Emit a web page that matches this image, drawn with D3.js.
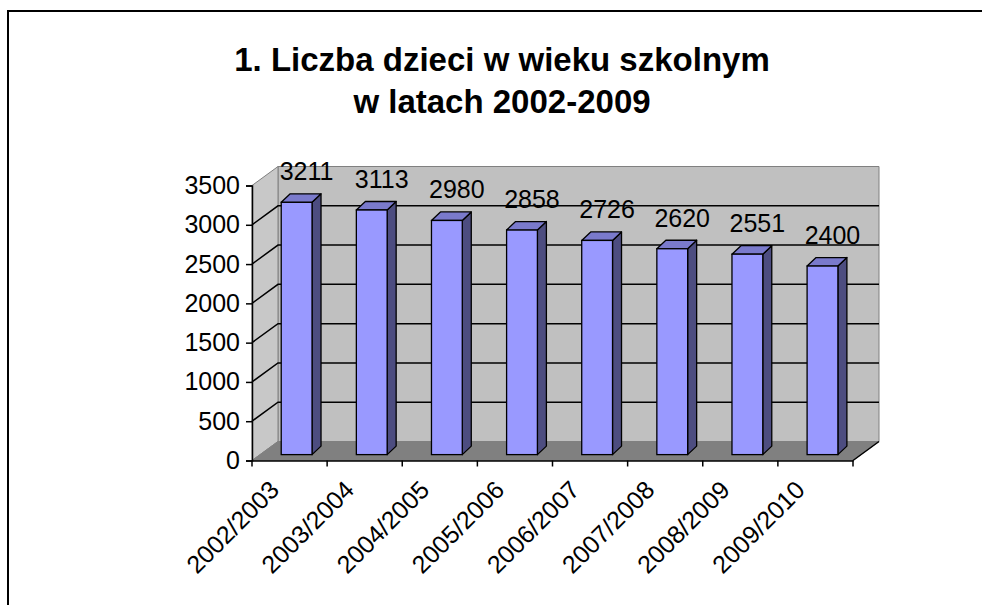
<!DOCTYPE html>
<html><head><meta charset="utf-8">
<script src="https://cdn.jsdelivr.net/npm/d3@7"></script>
<style>html,body{margin:0;padding:0;background:#fff;}svg{display:block;}</style>
</head><body>
<script>
const categories = ["2002/2003","2003/2004","2004/2005","2005/2006","2006/2007","2007/2008","2008/2009","2009/2010"];
const values = [3211,3113,2980,2858,2726,2620,2551,2400];
const yTicks = [0,500,1000,1500,2000,2500,3000,3500];
const titleLines = ["1. Liczba dzieci w wieku szkolnym","w latach 2002-2009"];

const W = 982, H = 605;
const font = "'Liberation Sans', Arial, sans-serif";
const svg = d3.select("body").append("svg").attr("width", W).attr("height", H);

// outer frame
svg.append("rect").attr("x", 8).attr("y", 11).attr("width", 1000).attr("height", 700)
  .attr("fill", "#fff").attr("stroke", "#000").attr("stroke-width", 2);

// title
svg.append("g").selectAll("text").data(titleLines).join("text")
  .attr("x", 502).attr("y", (d, i) => 71 + i * 42)
  .attr("text-anchor", "middle").attr("font-family", font)
  .attr("font-weight", "bold").attr("font-size", 33).text(d => d);

const x = d3.scaleBand().domain(categories).range([252, 853]).paddingInner(0).paddingOuter(0);
const y = d3.scaleLinear().domain([0, 3500]).range([460.5, 185.5]);
const DX = 26, DY = -19;           // wall depth
const x0 = x.range()[0], x1 = x.range()[1];
const y0 = y(0), yTop = y(3500);
const poly = pts => pts.map(p => p.join(",")).join(" ");

// back wall
svg.append("polygon")
  .attr("points", poly([[x0+DX, yTop+DY],[x1+DX, yTop+DY],[x1+DX, y0+DY],[x0+DX, y0+DY]]))
  .attr("fill", "#c0c0c0").attr("stroke", "#808080").attr("stroke-width", 1);
// left wall
svg.append("polygon")
  .attr("points", poly([[x0, yTop],[x0+DX, yTop+DY],[x0+DX, y0+DY],[x0, y0]]))
  .attr("fill", "#c8c8c8").attr("stroke", "#808080").attr("stroke-width", 1);
// floor
svg.append("polygon")
  .attr("points", poly([[x0, y0],[x0+DX, y0+DY],[x1+DX, y0+DY],[x1, y0]]))
  .attr("fill", "#808080").attr("stroke", "#808080").attr("stroke-width", 1);

// gridlines
const gridVals = yTicks.filter(v => v > 0 && v < 3500);
svg.append("g").selectAll("path").data(gridVals).join("path")
  .attr("d", v => `M${x0},${y(v)}L${x0+DX},${y(v)+DY}L${x1+DX},${y(v)+DY}`)
  .attr("fill", "none").attr("stroke", "#000").attr("stroke-width", 1.5);

// bars
const bw = x.bandwidth();
const barW = bw * 0.41;
const f0 = 0.31;
const bdx = 9, bdy = -8.5;
const bars = svg.append("g").selectAll("g").data(values).join("g");
const bx = (d, i) => x(categories[i]) + (bw - barW) / 2 + f0 * DX - 1;
const bt = d => y(d) + f0 * DY;
const bb = y(0) + f0 * DY;
bars.append("polygon")
  .attr("points", (d, i) => { const a = bx(d, i) + barW, t = bt(d);
    return poly([[a, t],[a+bdx, t+bdy],[a+bdx, bb+bdy],[a, bb]]); })
  .attr("fill", "#4d4d80").attr("stroke", "#000").attr("stroke-width", 1.3).attr("stroke-linejoin", "round");
bars.append("polygon")
  .attr("points", (d, i) => { const a = bx(d, i), t = bt(d);
    return poly([[a, t],[a+bdx, t+bdy],[a+barW+bdx, t+bdy],[a+barW, t]]); })
  .attr("fill", "#7a7acc").attr("stroke", "#000").attr("stroke-width", 1.3).attr("stroke-linejoin", "round");
bars.append("rect")
  .attr("x", (d, i) => bx(d, i)).attr("y", d => bt(d))
  .attr("width", barW).attr("height", d => bb - bt(d))
  .attr("fill", "#9999ff").attr("stroke", "#000").attr("stroke-width", 1.3);

// y axis
const yAxis = d3.axisLeft(y).tickValues(yTicks).tickSize(6).tickPadding(6).tickFormat(d3.format("d"));
const gy = svg.append("g").attr("transform", `translate(${x0},0)`).call(yAxis);
gy.select(".domain").attr("stroke", "#000").attr("stroke-width", 1.5);
gy.selectAll(".tick line").attr("stroke", "#000").attr("stroke-width", 1.5);
gy.selectAll(".tick text").attr("font-family", font).attr("font-size", 25).attr("fill", "#000");

// x axis
const xAxis = d3.axisBottom(x).tickSize(0).tickFormat(d => d);
const gx = svg.append("g").attr("transform", `translate(0,${y0})`).call(xAxis);
gx.select(".domain").attr("stroke", "#000").attr("stroke-width", 1.5);
gx.selectAll(".tick text")
  .attr("font-family", font).attr("font-size", 25).attr("fill", "#000")
  .attr("text-anchor", "end").attr("dy", null)
  .attr("transform", "translate(-9,31) rotate(-45)").attr("y", 0).attr("x", 0);
// category boundary ticks
const bounds = categories.map(c => x(c)).concat([x1]);
svg.append("g").selectAll("line").data(bounds).join("line")
  .attr("x1", d => d).attr("x2", d => d).attr("y1", y0).attr("y2", y0 + 6)
  .attr("stroke", "#000").attr("stroke-width", 1.5);
// right floor edge
svg.append("line").attr("x1", x1).attr("y1", y0).attr("x2", x1 + DX).attr("y2", y0 + DY)
  .attr("stroke", "#000").attr("stroke-width", 1.5);

// data labels
svg.append("g").selectAll("text").data(values).join("text")
  .attr("x", (d, i) => x(categories[i]) + bw / 2 + 17)
  .attr("y", d => y(d) - 28)
  .attr("text-anchor", "middle").attr("font-family", font).attr("font-size", 25)
  .attr("fill", "#000").text(d => d);
</script>
</body></html>
